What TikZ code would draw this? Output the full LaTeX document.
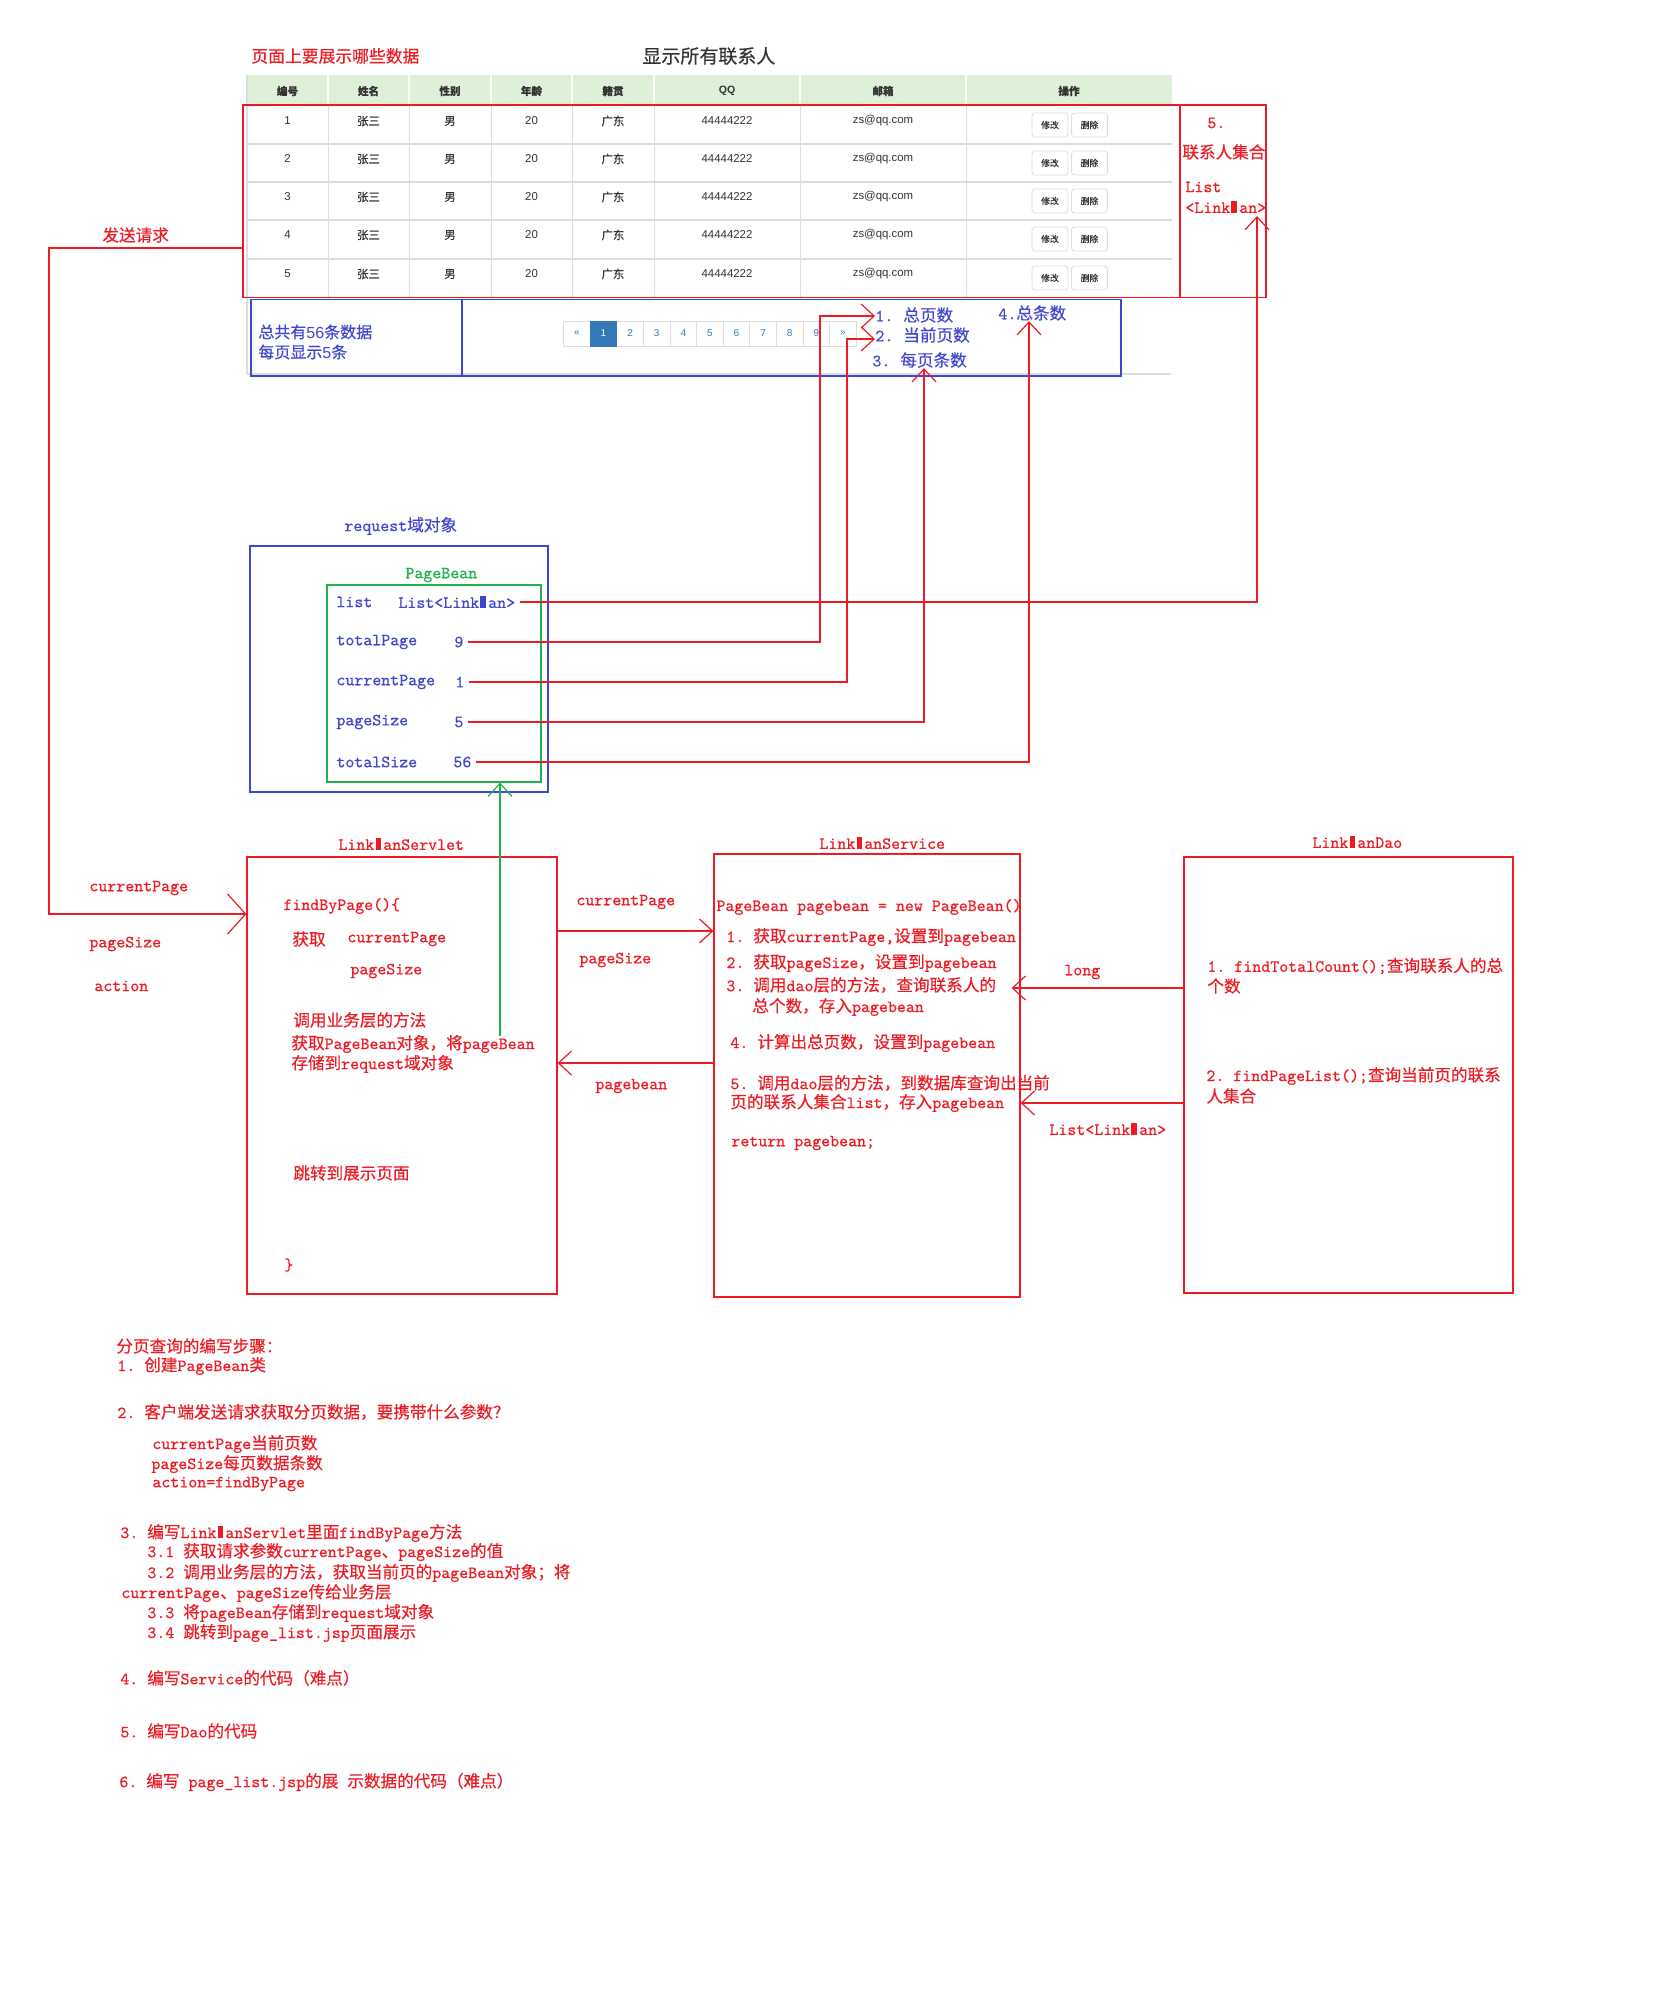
\documentclass[tikz,border=0pt]{standalone}
\usepackage{fontspec}
\setsansfont{Liberation Sans}
\setmonofont{lmmono10-regular.otf}[FakeBold=0.6,Scale=1.03]
\newfontfamily\cjkf{Noto Sans CJK SC}[FakeBold=0.4]
\usetikzlibrary{arrows.meta,fit}
\definecolor{pr}{RGB}{237,28,36}
\definecolor{pb}{RGB}{63,72,204}
\definecolor{pgr}{RGB}{34,177,76}
\definecolor{hdr}{RGB}{223,240,216}
\definecolor{gridc}{RGB}{221,221,221}
\definecolor{tcol}{RGB}{51,51,51}
\definecolor{lnk}{RGB}{51,122,183}
\chardef\cjkclass=10
\newcount\cjkcnt
\def\setcjkrange#1#2{\cjkcnt=#1\relax
  \loop\XeTeXcharclass\cjkcnt=\cjkclass\relax
  \advance\cjkcnt by 1\relax
  \ifnum\cjkcnt<#2\relax\repeat}
\setcjkrange{"3000}{"3040}
\setcjkrange{"4E00}{"A000}
\setcjkrange{"FF00}{"FFF0}
\def\latinback{\ttfamily}
\XeTeXinterchartoks 0 \cjkclass = {\cjkf}
\XeTeXinterchartoks 4095 \cjkclass = {\cjkf}
\XeTeXinterchartoks \cjkclass 0 = {\latinback}
\XeTeXinterchartoks \cjkclass 4095 = {\latinback}
\XeTeXinterchartokenstate=1
\newcommand\Mb{\kern0.07em\rule{0.32em}{0.7em}\kern0.135em}
\begin{document}
\begin{tikzpicture}[x=0.5pt,y=-0.5pt,
  rl/.style={draw=pr,line width=0.6pt},
  bln/.style={draw=pb,line width=0.6pt},
  gln/.style={draw=pgr,line width=0.6pt},
  arr/.style={-{Straight Barb[length=6.5pt,width=12pt]}},
  arrL/.style={-{Straight Barb[length=9pt,width=20pt]}},
  tr/.style={text=pr,inner sep=0pt,anchor=west,font=\ttfamily\fontsize{8.3}{10}\selectfont},
  tb/.style={tr,text=pb},
  tg/.style={tr,text=pgr},
  tbs/.style={text=pb,inner sep=0pt,anchor=west,font={\sffamily\let\latinback\sffamily\fontsize{8}{10}\selectfont}},
  cell/.style={text=tcol,inner sep=0pt,font={\sffamily\let\latinback\sffamily\fontsize{5.7}{7}\selectfont}},
  hd/.style={text=tcol,inner sep=0pt,font={\sffamily\bfseries\let\latinback\sffamily\fontsize{5.3}{7}\selectfont}},
  btn/.style={draw=gridc,fill=white,rounded corners=1.5pt,minimum width=18pt,minimum height=12pt,inner sep=0pt,text=tcol,font={\sffamily\fontsize{4.4}{6}\selectfont}},
  pcell/.style={draw=gridc,fill=white,minimum width=13.3pt,minimum height=12.5pt,inner sep=0pt,text=lnk,font={\sffamily\fontsize{5}{6}\selectfont}},
  rbox/.style={rl,inner sep=0pt},
  bbox/.style={bln,inner sep=0pt},
  gbox/.style={gln,inner sep=0pt}
]
\useasboundingbox[fill=white] (0,0) rectangle (1662,2005);

% ---------- titles ----------
\node[tr,font=\ttfamily\fontsize{8.4}{10}\selectfont] (ttl) at (251,56) {页面上要展示哪些数据};
\node[text=tcol,inner sep=0pt,anchor=west,font={\sffamily\fontsize{9.5}{11}\selectfont}] (ttl2) at (642,56) {显示所有联系人};

% ---------- table ----------
\fill[hdr] (247,75) rectangle (1172,104);
\foreach \x in {328,409,491,572,654,800,966}
  \draw[white,line width=0.6pt] (\x,75) -- (\x,104);
\foreach \x in {328,409,491,572,654,800,966}
  \draw[gridc,line width=0.5pt] (\x,105) -- (\x,297);
\foreach \y in {144,182,220,259}
  \draw[gridc,line width=1pt] (247,\y) -- (1172,\y);
\draw[gridc,line width=0.6pt] (247,75) -- (247,374) -- (1171,374);
\foreach \cx/\t [count=\i] in {287.5/编号,368.5/姓名,450/性别,531.5/年龄,613/籍贯,727/QQ,883/邮箱,1069/操作}
  \node[hd] (h\i) at (\cx,91) {\t};
\foreach \r/\yy in {1/121,2/159,3/197,4/235,5/274}{
  \node[cell] (a\r) at (287.5,\yy) {\r};
  \node[cell] (b\r) at (368.5,\yy) {张三};
  \node[cell] (c\r) at (450,\yy) {男};
  \node[cell] (d\r) at (531.5,\yy) {20};
  \node[cell] (e\r) at (613,\yy) {广东};
  \node[cell] (f\r) at (727,\yy) {44444222};
  \node[cell] (g\r) at (883,\yy) {zs@qq.com};
  \node[btn] (m\r) at (1050,\yy+4) {修改};
  \node[btn] (x\r) at (1089.5,\yy+4) {删除};
}

% red boxes around rows / list
\node[rbox,fit={(243,105) (1180,297.5)}] (rowsbox) {};
\node[rbox,fit={(1180,105) (1266,297.5)}] (lbox) {};
\node[tr] (n5) at (1207,123) {5.};
\node[tr] (lset) at (1182,152) {联系人集合};
\node[tr] (llist) at (1185,187) {List};
\node[tr] (llm) at (1185,207) {<Link\Mb an>};
\coordinate (lmtip) at (1257,216);

% ---------- pagination area ----------
\node[bbox,fit={(251,299.5) (462,376)}] (pbl) {};
\node[bbox,fit={(462,299.5) (1121,376)}] (pbr) {};
\node[tbs] (tot) at (258,332) {总共有56条数据};
\node[tbs] (per) at (258,352) {每页显示5条};
\foreach \lab [count=\i from 0] in {«,1,2,3,4,5,6,7,8,9,»}
  \node[pcell] (p\i) at ({576.9+26.6*\i},333.5) {\lab};
\node[pcell,fill=lnk,draw=lnk,text=white] (pact) at (p1) {1};
\node[tb] (t1) at (875,315) {1.\hspace{5pt}总页数};
\node[tb] (t2) at (875,335) {2.\hspace{5pt}当前页数};
\node[tb] (t3) at (872,360) {3.\hspace{5pt}每页条数};
\node[tb] (t4) at (998,313) {4.总条数};

% ---------- request / PageBean ----------
\node[tb] (reqt) at (344,526) {request域对象};
\node[bbox,fit={(250,546) (548,792)}] (reqbox) {};
\node[tg] (pbt) at (405,575) {PageBean};
\node[gbox,fit={(327,585) (541,782)}] (pgbox) {};
\node[tb] (klist) at (336,602) {list};
\node[tb] (plist) at (398,602) {List<Link\Mb an>};
\node[tb] (ktp) at (336,642) {totalPage};
\node[tb] (v9) at (454,642) {9};
\node[tb] (kcp) at (336,682) {currentPage};
\node[tb] (v1) at (455,682) {1};
\node[tb] (kps) at (336,722) {pageSize};
\node[tb] (v5) at (454,722) {5};
\node[tb] (kts) at (336,762) {totalSize};
\node[tb] (v56) at (453,762) {56};

% ---------- left request ----------
\node[tr] (send) at (102,235) {发送请求};
\node[tr] (lcp) at (89,888) {currentPage};
\node[tr] (lps) at (89,944) {pageSize};
\node[tr] (lac) at (94,986) {action};

% ---------- servlet ----------
\node[tr] (sname) at (338,844) {Link\Mb anServlet};
\node[rbox,fit={(247,857) (557,1294)}] (servlet) {};
\node[tr] (s1) at (283,906) {findByPage()\{};
\node[tr] (s2) at (292,939) {获取};
\node[tr] (s2b) at (347,939) {currentPage};
\node[tr] (s2c) at (350,971) {pageSize};
\node[tr] (s3) at (293,1020) {调用业务层的方法};
\node[tr] (s4) at (291,1044) {获取PageBean对象，将pageBean};
\node[tr] (s5) at (291,1064) {存储到request域对象};
\node[tr] (s6) at (293,1173) {跳转到展示页面};
\node[tr] (s7) at (284,1265) {\}};

% ---------- service ----------
\node[tr] (vname) at (819,843) {Link\Mb anService};
\node[rbox,fit={(714,854) (1020,1297)}] (service) {};
\node[tr] (v0) at (716,907) {PageBean pagebean = new PageBean()};
\node[tr] (va) at (726,937) {1. 获取currentPage,设置到pagebean};
\node[tr] (vb) at (726,963) {2. 获取pageSize，设置到pagebean};
\node[tr] (vc) at (726,985) {3. 调用dao层的方法，查询联系人的};
\node[tr] (vc2) at (752,1007) {总个数，存入pagebean};
\node[tr] (vd) at (730,1043) {4. 计算出总页数，设置到pagebean};
\node[tr] (ve) at (730,1083) {5. 调用dao层的方法，到数据库查询出当前};
\node[tr] (ve2) at (730,1103) {页的联系人集合list，存入pagebean};
\node[tr] (vf) at (731,1143) {return pagebean;};

% ---------- dao ----------
\node[tr] (dname) at (1312,842) {Link\Mb anDao};
\node[rbox,fit={(1184,857) (1513,1293)}] (dao) {};
\node[tr] (da) at (1207,966) {1. findTotalCount();查询联系人的总};
\node[tr] (da2) at (1207,986) {个数};
\node[tr] (db) at (1206,1076) {2. findPageList();查询当前页的联系};
\node[tr] (db2) at (1206,1096) {人集合};

% labels between boxes
\node[tr] (mcp) at (576,902) {currentPage};
\node[tr] (mps) at (579,960) {pageSize};
\node[tr] (mpb) at (595,1086) {pagebean};
\node[tr] (mlong) at (1064,972) {long};
\node[tr] (mlist) at (1049,1129) {List<Link\Mb an>};

% ---------- connectors ----------
\draw[rl,arr] ([xshift=2pt]plist.east) -| (lmtip);
\draw[rl,arr] ([xshift=2pt]v9.east) -| (820,316) -- (t1.west |- 820,316);
\draw[rl,arr] ([xshift=2pt]v1.east) -| (847,339) -- (t2.west |- 847,339);
\draw[rl,arr] ([xshift=2pt]v5.east) -| (t3.south -| 924,0);
\draw[rl,arr] ([xshift=2pt]v56.east) -| (t4.south -| 1029,0);
\coordinate (gstart) at (500,1036);
\draw[gln,arr] (gstart) -- (pgbox.south -| gstart);
\draw[rl,arrL] (rowsbox.west |- 0,248) -- (49,248) -- (49,914) -- (servlet.west |- 0,914);
\draw[rl,arr] (servlet.east |- 0,931) -- (service.west |- 0,931);
\draw[rl,arr] (service.west |- 0,1063) -- (servlet.east |- 0,1063);
\draw[rl,arr,shorten >=-4.5pt] (dao.west |- 0,988) -- (service.east |- 0,988);
\draw[rl,arr] (dao.west |- 0,1103) -- (service.east |- 0,1103);

% ---------- steps ----------
\node[tr] (q0) at (116,1346) {分页查询的编写步骤：};
\node[tr] (q1) at (117,1366) {1. 创建PageBean类};
\node[tr] (q2) at (117,1412) {2. 客户端发送请求获取分页数据，要携带什么参数？};
\node[tr] (q2a) at (152,1444) {currentPage当前页数};
\node[tr] (q2b) at (151,1464) {pageSize每页数据条数};
\node[tr] (q2c) at (152,1484) {action=findByPage};
\node[tr] (q3) at (120,1533) {3. 编写Link\Mb anServlet里面findByPage方法};
\node[tr] (q31) at (147,1552) {3.1 获取请求参数currentPage、pageSize的值};
\node[tr] (q32) at (147,1573) {3.2 调用业务层的方法，获取当前页的pageBean对象；将};
\node[tr] (q32b) at (121,1593) {currentPage、pageSize传给业务层};
\node[tr] (q33) at (147,1613) {3.3 将pageBean存储到request域对象};
\node[tr] (q34) at (147,1633) {3.4 跳转到page\_list.jsp页面展示};
\node[tr] (q4) at (120,1678) {4. 编写Service的代码（难点）};
\node[tr] (q5) at (120,1731) {5. 编写Dao的代码};
\node[tr] (q6) at (119,1782) {6. 编写 page\_list.jsp的展 示数据的代码（难点）};
\end{tikzpicture}
\end{document}
